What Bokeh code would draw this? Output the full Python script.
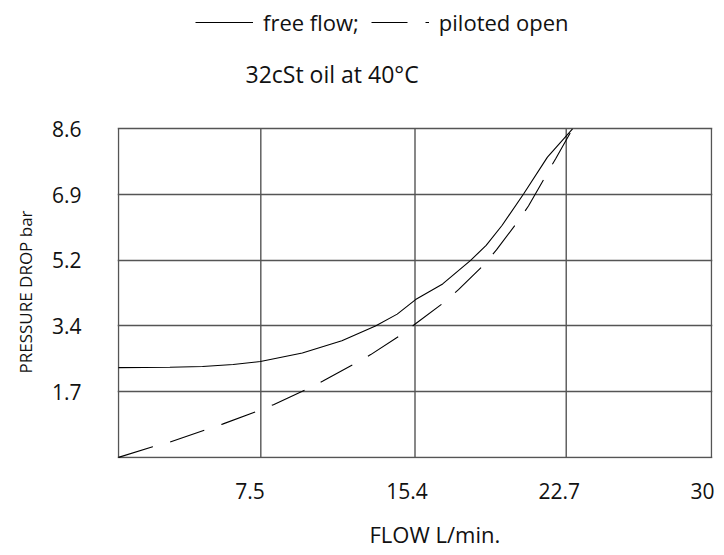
from bokeh.plotting import figure
from bokeh.models import Range1d, FixedTicker, Legend, LegendItem, Label, Title
from bokeh.embed import file_html
from bokeh.resources import INLINE

# ---- data ----
free_flow_x = [0, 2.6, 4.25, 5.8, 7.18, 9.3, 11.3, 13.0, 14.1, 15.03, 16.4, 17.8, 18.6,
               19.4, 20.5, 21.7, 22.97]
free_flow_y = [2.35, 2.36, 2.38, 2.43, 2.51, 2.73, 3.05, 3.44, 3.75, 4.13, 4.54, 5.15, 5.55,
               6.07, 6.9, 7.86, 8.6]

piloted_x = [0, 1.73, 2.65, 4.39, 5.26, 6.98, 7.84, 9.51, 10.32, 11.95, 12.76, 14.30, 15.01,
             16.53, 17.2, 18.53, 19.12, 20.24, 20.74, 21.67, 22.13, 22.97]
piloted_y = [0, 0.28, 0.41, 0.72, 0.87, 1.20, 1.38, 1.78, 1.99, 2.45, 2.69, 3.21, 3.49,
             4.08, 4.39, 5.06, 5.43, 6.20, 6.58, 7.42, 7.83, 8.6]

flow_min, flow_max = 0, 30
flow_lines = [0, 7.2, 15.0, 22.65, 30]          # vertical grid / frame lines
flow_label_pos = [6.65, 14.6, 22.3, 29.55]
flow_labels = ["7.5", "15.4", "22.7", "30"]

pressure_min, pressure_max = 0, 8.6
pressure_lines = [0, 1.72, 3.44, 5.16, 6.88, 8.6]
pressure_ticks = [1.72, 3.44, 5.16, 6.88, 8.6]
pressure_labels = ["1.7", "3.4", "5.2", "6.9", "8.6"]

FONT = "Open Sans"
LINE_COL = "#555"
TXT = "#111"

p = figure(frame_width=595, frame_height=458,
           x_range=Range1d(-0.05, 30.05), y_range=Range1d(-0.03, 11.96),
           output_backend="svg", toolbar_location=None, tools="",
           min_border_left=115, min_border_right=4,
           min_border_top=0, min_border_bottom=85)
p.background_fill_color = "white"
p.outline_line_color = None

# axes
p.xaxis.ticker = FixedTicker(ticks=flow_label_pos)
p.xaxis.major_label_overrides = {pos: lab for pos, lab in zip(flow_label_pos, flow_labels)}
p.yaxis.ticker = FixedTicker(ticks=pressure_ticks)
p.yaxis.major_label_overrides = {pos: lab for pos, lab in zip(pressure_ticks, pressure_labels)}
for ax in (p.xaxis[0], p.yaxis[0]):
    ax.axis_line_color = None
    ax.major_tick_line_color = None
    ax.minor_tick_line_color = None
    ax.major_tick_out = 0
    ax.major_tick_in = 0
    ax.major_label_text_font = FONT
    ax.major_label_text_font_size = "21px"
    ax.major_label_text_color = TXT
p.xaxis.major_label_standoff = 24
p.yaxis.major_label_standoff = 36

# axis titles (placed as titles so they can sit off-centre like the reference)
p.add_layout(Title(text="PRESSURE DROP bar", align="left", offset=85,
                   text_font=FONT, text_font_size="17px", text_font_style="normal",
                   text_color=TXT, standoff=23), "left")
p.add_layout(Title(text="FLOW L/min.", align="left", offset=252,
                   text_font=FONT, text_font_size="22px", text_font_style="normal",
                   text_color=TXT, standoff=31), "below")

# grid: horizontal lines through the grid, vertical lines drawn as segments (only up to 8.6)
p.xgrid.visible = False
p.ygrid.ticker = FixedTicker(ticks=pressure_lines)
p.ygrid.grid_line_color = LINE_COL
p.ygrid.grid_line_width = 1.4
n = len(flow_lines)
p.segment(x0=flow_lines, y0=[pressure_min] * n, x1=flow_lines, y1=[pressure_max] * n,
          line_color=LINE_COL, line_width=1.4)

# curves
r1 = p.line(free_flow_x, free_flow_y, line_color="black", line_width=1.1)
r2 = p.line(piloted_x, piloted_y, line_color="black", line_width=1.1, line_dash="36 18")

# subtitle
p.add_layout(Label(x=128, y=385, x_units="screen", y_units="screen",
                   text="32cSt oil at 40\u00b0C", text_font=FONT, text_font_size="23px",
                   text_color=TXT, text_baseline="middle", text_align="left"))

legend = Legend(items=[LegendItem(label="free flow;", renderers=[r1]),
                       LegendItem(label="piloted open", renderers=[r2])],
                orientation="horizontal", location=(78, 421),
                glyph_width=58, glyph_height=20, label_standoff=10, spacing=12,
                padding=0, margin=0, border_line_color=None,
                background_fill_alpha=0,
                label_text_font=FONT, label_text_font_size="22px", label_text_color=TXT)
p.add_layout(legend, "center")

open("out.html", "w").write(file_html(p, INLINE))
